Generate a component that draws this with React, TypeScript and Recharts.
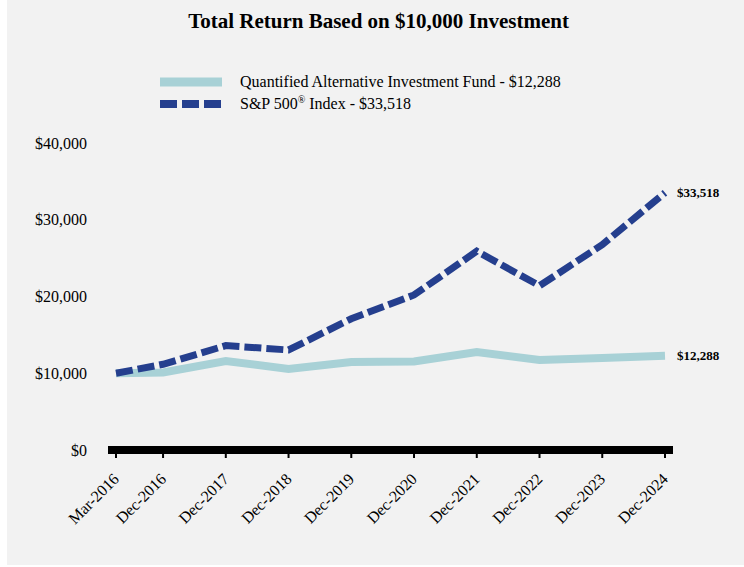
import { LineChart, Line, XAxis, YAxis, LabelList } from "recharts";

const periods = [
  "Mar-2016",
  "Dec-2016",
  "Dec-2017",
  "Dec-2018",
  "Dec-2019",
  "Dec-2020",
  "Dec-2021",
  "Dec-2022",
  "Dec-2023",
  "Dec-2024",
];

const fundValues = [10000, 10100, 11600, 10560, 11470, 11540, 12750, 11730, 12000, 12288];
const spValues = [10000, 11170, 13600, 13030, 17100, 20200, 25900, 21400, 26750, 33518];

const yTicks = [0, 10000, 20000, 30000, 40000];

const fundName = "Quantified Alternative Investment Fund - $12,288";
const spName = "S&P 500";
const spSuffix = " Index - $33,518";

const months = ["Jan", "Feb", "Mar", "Apr", "May", "Jun", "Jul", "Aug", "Sep", "Oct", "Nov", "Dec"];

// month-end position in years, so Mar-2016 -> Dec-2016 is 0.75 of a year
const toYear = (p: string) => {
  const [m, y] = p.split("-");
  return Number(y) + (months.indexOf(m) + 1) / 12;
};

const data = periods.map((p, i) => ({
  t: toYear(p),
  label: p,
  fund: fundValues[i],
  sp: spValues[i],
}));

const FONT = '"Liberation Serif", "Times New Roman", serif';
const FUND_COLOR = "#a8d1d6";
const SP_COLOR = "#253f8e";

const money = (v: number) => "$" + v.toLocaleString("en-US");

const XTick = (props: any) => {
  const { x, y, payload } = props;
  const idx = data.findIndex((d) => Math.abs(d.t - payload.value) < 1e-6);
  return (
    <g transform={`translate(${x + 4},${y + 22})`}>
      <text
        x={0}
        y={0}
        textAnchor="end"
        transform="rotate(-45)"
        fontFamily={FONT}
        fontSize={16}
        fill="#000"
      >
        {idx >= 0 ? data[idx].label : ""}
      </text>
    </g>
  );
};

const endLabel = (props: any) => {
  const { x, y, index, value } = props;
  if (index !== data.length - 1) return null;
  return (
    <text
      x={x + 12}
      y={y}
      dy={4}
      fontFamily={FONT}
      fontSize={13}
      fontWeight="bold"
      fill="#000"
    >
      {money(value)}
    </text>
  );
};

export default function App() {
  return (
    <div
      style={{
        position: "absolute",
        left: 0,
        top: 0,
        width: 744,
        height: 567,
        background: "#fff",
        fontFamily: FONT,
      }}
    >
      <div
        style={{
          position: "absolute",
          left: 7,
          top: 0,
          width: 737,
          height: 565,
          background: "#f2f2f2",
        }}
      />

      <div
        style={{
          position: "absolute",
          left: 0,
          top: 9,
          width: 757,
          textAlign: "center",
          fontSize: 21,
          fontWeight: "bold",
          color: "#000",
        }}
      >
        Total Return Based on $10,000 Investment
      </div>

      <div style={{ position: "absolute", left: 160, top: 72, fontSize: 16, color: "#000" }}>
        <div style={{ display: "flex", alignItems: "center", height: 20 }}>
          <svg width={62} height={10} style={{ marginRight: 18 }}>
            <line x1={0} x2={62} y1={5} y2={5} stroke={FUND_COLOR} strokeWidth={9} />
          </svg>
          <span>{fundName}</span>
        </div>
        <div style={{ display: "flex", alignItems: "center", height: 20, marginTop: 2 }}>
          <svg width={62} height={10} style={{ marginRight: 18 }}>
            <line
              x1={0}
              x2={62}
              y1={5}
              y2={5}
              stroke={SP_COLOR}
              strokeWidth={8}
              strokeDasharray="17 5"
            />
          </svg>
          <span>
            {spName}
            <sup style={{ fontSize: 10 }}>®</sup>
            {spSuffix}
          </span>
        </div>
      </div>

      <div style={{ position: "absolute", left: 0, top: 0 }}>
        <LineChart
          width={744}
          height={567}
          data={data}
          margin={{ top: 143, right: 71, bottom: 37, left: 48 }}
        >
          <XAxis
            dataKey="t"
            type="number"
            domain={[data[0].t, data[data.length - 1].t]}
            ticks={data.map((d) => d.t)}
            padding={{ left: 8, right: 8 }}
            height={80}
            axisLine={{ stroke: "#000", strokeWidth: 8 }}
            tickLine={{ stroke: "#000", strokeWidth: 2 }}
            tickSize={8}
            tickMargin={0}
            tick={<XTick />}
            interval={0}
          />
          <YAxis
            domain={[0, 40000]}
            ticks={yTicks}
            width={60}
            axisLine={false}
            tickLine={false}
            tickSize={0}
            tickMargin={21}
            tickFormatter={money}
            tick={{ fontFamily: FONT, fontSize: 16, fill: "#000" }}
          />
          <Line
            type="linear"
            dataKey="fund"
            stroke={FUND_COLOR}
            strokeWidth={8}
            dot={false}
            isAnimationActive={false}
          >
            <LabelList dataKey="fund" content={endLabel} />
          </Line>
          <Line
            type="linear"
            dataKey="sp"
            stroke={SP_COLOR}
            strokeWidth={7}
            strokeDasharray="17 5"
            dot={false}
            isAnimationActive={false}
          >
            <LabelList dataKey="sp" content={endLabel} />
          </Line>
        </LineChart>
      </div>
    </div>
  );
}
